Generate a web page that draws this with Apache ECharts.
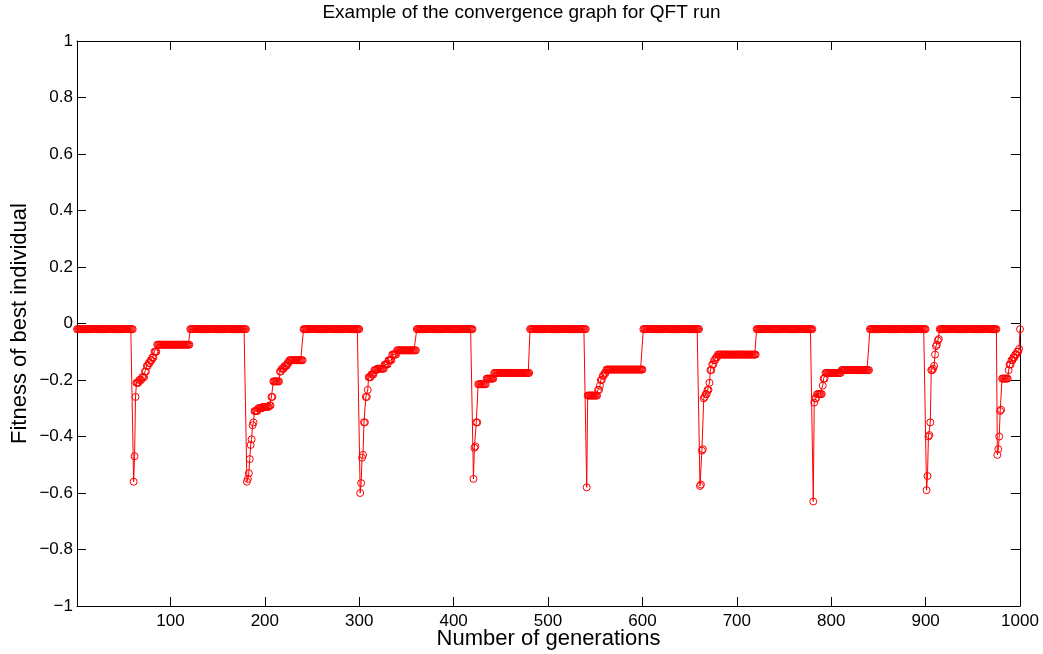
<!DOCTYPE html>
<html>
<head>
<meta charset="utf-8">
<script src="https://cdn.jsdelivr.net/npm/echarts@6/dist/echarts.min.js"></script>
<style>
html, body { margin: 0; padding: 0; background: #fff; }
#chart { width: 1043px; height: 654px; }
</style>
</head>
<body>
<div id="chart"></div>
<script>
// ---- Data ----
const titleText = 'Example of the convergence graph for QFT run';
const xName = 'Number of generations';
const yName = 'Fitness of best individual';
const generationCount = 1000;
const xTicks = [100, 200, 300, 400, 500, 600, 700, 800, 900, 1000];

// Best fitness is piecewise constant: each entry gives the generation at which
// a new value starts, and that value (held until the next entry).
const stepStart = [
  1, 61, 62, 63, 64, 67, 70, 73, 75, 77, 79, 81, 83, 86,
  121, 181, 182, 183, 184, 185, 186, 187, 188, 189, 193, 198, 205, 207, 209, 216, 218, 221, 224, 226,
  241, 301, 302, 303, 304, 305, 307, 309, 310, 313, 316, 319, 327, 331, 335, 340,
  361, 421, 422, 423, 424, 426, 435, 443,
  481, 541, 542, 553, 555, 556, 558, 560, 562,
  601, 661, 662, 663, 664, 665, 666, 667, 669, 671, 672, 674, 676, 678, 680,
  721, 781, 782, 783, 785, 791, 792, 794, 811,
  841, 901, 902, 903, 904, 905, 906, 908, 909, 910, 911, 912, 913, 914,
  915, 976, 977, 978, 979, 980, 981, 988, 989, 991, 993, 995, 997, 999,
  1000
];
const stepValue = [
  -0.02, -0.56, -0.47, -0.26, -0.21, -0.20, -0.19, -0.17, -0.15, -0.14, -0.13, -0.12, -0.10, -0.075,
  -0.02, -0.56, -0.55, -0.53, -0.48, -0.43, -0.41, -0.36, -0.35, -0.31, -0.30, -0.295, -0.29, -0.26, -0.205, -0.17, -0.16, -0.15, -0.14, -0.13,
  -0.02, -0.60, -0.565, -0.475, -0.465, -0.35, -0.26, -0.235, -0.19, -0.18, -0.165, -0.16, -0.145, -0.13, -0.11, -0.095,
  -0.02, -0.55, -0.44, -0.435, -0.35, -0.215, -0.195, -0.175,
  -0.02, -0.58, -0.255, -0.235, -0.22, -0.20, -0.185, -0.175, -0.163,
  -0.02, -0.575, -0.57, -0.45, -0.445, -0.265, -0.26, -0.25, -0.235, -0.21, -0.165, -0.145, -0.13, -0.12, -0.11,
  -0.02, -0.63, -0.28, -0.265, -0.25, -0.22, -0.195, -0.175, -0.165,
  -0.02, -0.59, -0.54, -0.40, -0.395, -0.35, -0.165, -0.16, -0.15, -0.11, -0.08, -0.075, -0.06, -0.055,
  -0.02, -0.465, -0.445, -0.40, -0.31, -0.305, -0.195, -0.165, -0.145, -0.13, -0.12, -0.11, -0.10, -0.09,
  -0.02
];

// Expand the step list into one point per generation
const seriesData = [];
let k = 0;
for (let g = 1; g <= generationCount; g++) {
  while (k + 1 < stepStart.length && stepStart[k + 1] <= g) k++;
  seriesData.push([g, stepValue[k]]);
}

const FONT = '"Liberation Sans", Arial, Helvetica, sans-serif';
const fmtY = function (v) {
  const r = Math.round(v * 10) / 10;
  return String(r).replace('-', '\u2212');
};
const fmtX = function (v) { return String(Math.round(v)); };

const chart = echarts.init(document.getElementById('chart'), null, { renderer: 'canvas' });
chart.setOption({
  animation: false,
  backgroundColor: '#ffffff',
  title: {
    text: titleText,
    left: 'center',
    top: -2,
    textStyle: { fontFamily: FONT, fontSize: 19, fontWeight: 'normal', color: '#000' }
  },
  grid: { left: 77, right: 23, top: 41, bottom: 48, containLabel: false, outerBoundsMode: 'none' },
  xAxis: [
    {
      type: 'value', min: 1, max: generationCount, position: 'bottom',
      name: xName, nameLocation: 'middle', nameGap: 22, nameMoveOverlap: false,
      nameTextStyle: { fontFamily: FONT, fontSize: 22, color: '#000' },
      axisLine: { show: true, onZero: false, lineStyle: { color: '#000', width: 1 } },
      axisTick: { show: true, inside: true, length: 9, customValues: xTicks, lineStyle: { color: '#000' } },
      axisLabel: { show: true, customValues: xTicks, formatter: fmtX, margin: 7, fontFamily: FONT, fontSize: 17, color: '#000' },
      splitLine: { show: false }
    },
    {
      type: 'value', min: 1, max: generationCount, position: 'top',
      axisLine: { show: true, onZero: false, lineStyle: { color: '#000', width: 1 } },
      axisTick: { show: true, inside: true, length: 9, customValues: xTicks, lineStyle: { color: '#000' } },
      axisLabel: { show: false },
      splitLine: { show: false }
    }
  ],
  yAxis: [
    {
      type: 'value', min: -1, max: 1, interval: 0.2, position: 'left',
      name: yName, nameLocation: 'middle', nameGap: 46, nameMoveOverlap: false,
      nameTextStyle: { fontFamily: FONT, fontSize: 22, color: '#000' },
      axisLine: { show: true, onZero: false, lineStyle: { color: '#000', width: 1 } },
      axisTick: { show: true, inside: true, length: 9, lineStyle: { color: '#000' } },
      axisLabel: { show: true, margin: 4, formatter: fmtY, fontFamily: FONT, fontSize: 17, color: '#000' },
      splitLine: { show: false }
    },
    {
      type: 'value', min: -1, max: 1, interval: 0.2, position: 'right',
      axisLine: { show: true, onZero: false, lineStyle: { color: '#000', width: 1 } },
      axisTick: { show: true, inside: true, length: 9, lineStyle: { color: '#000' } },
      axisLabel: { show: false },
      splitLine: { show: false }
    }
  ],
  series: [
    {
      type: 'line',
      xAxisIndex: 0, yAxisIndex: 0,
      data: seriesData,
      symbol: 'circle',
      symbolSize: 7,
      showAllSymbol: true,
      lineStyle: { color: '#ff0000', width: 1 },
      itemStyle: { color: 'rgba(255,255,255,0)', borderColor: '#ff0000', borderWidth: 1 },
      emphasis: { disabled: true }
    }
  ]
});
</script>
</body>
</html>
